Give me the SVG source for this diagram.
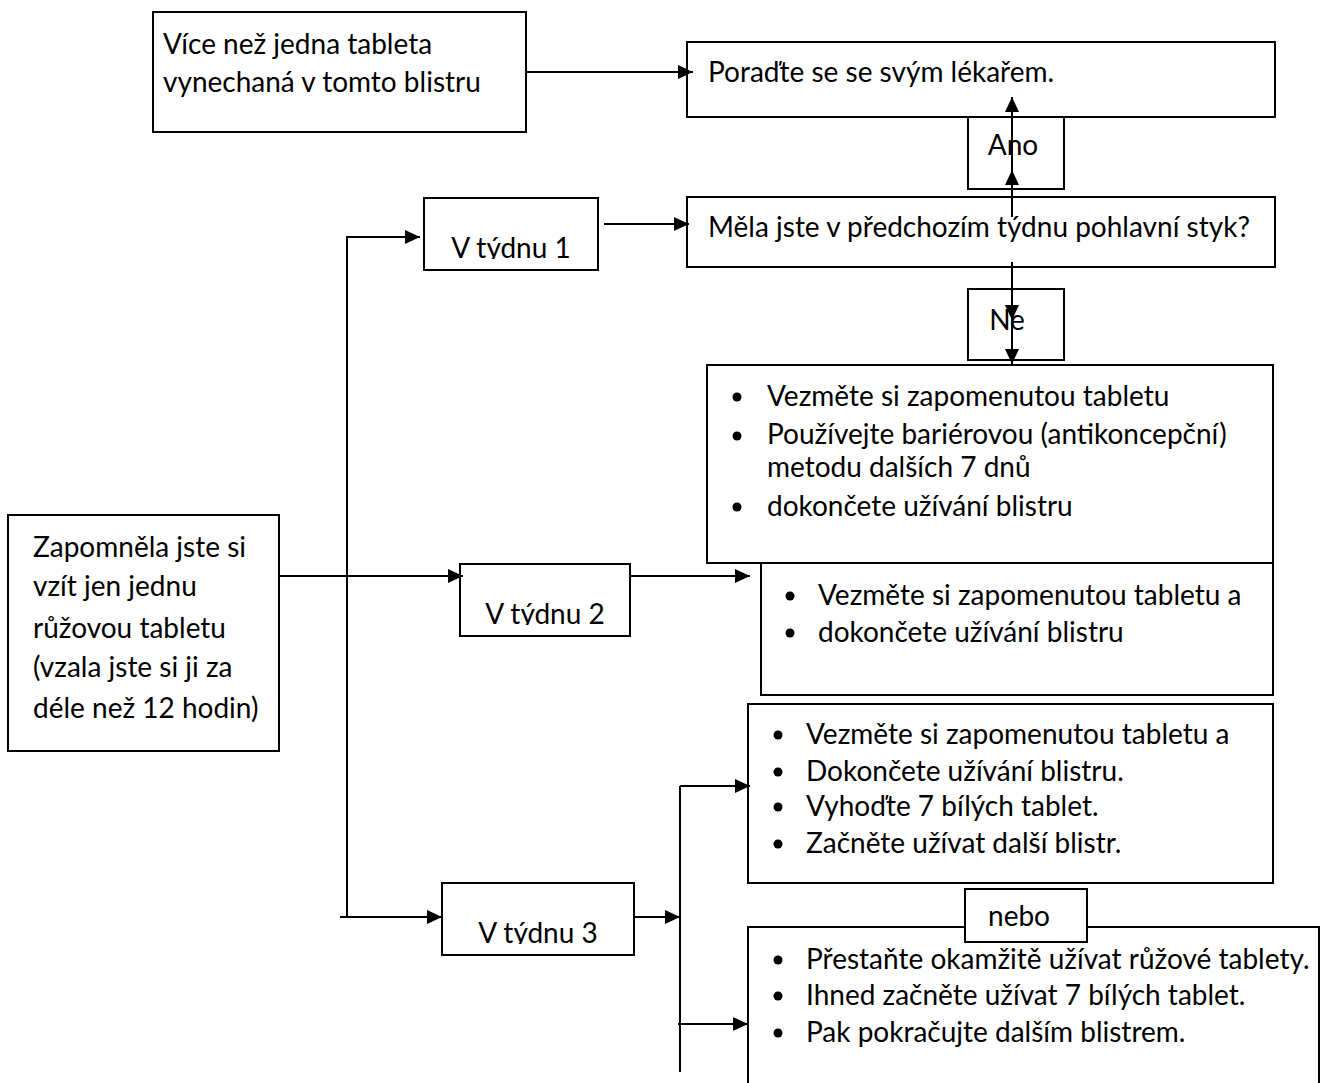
<svg xmlns="http://www.w3.org/2000/svg" width="1326" height="1083" viewBox="0 0 1326 1083">
<style>
.box{fill:#fff;stroke:#000;stroke-width:2}
.t{font-family:Lato,"Liberation Sans",sans-serif;font-size:28px;fill:#000}
.c{text-anchor:middle}
.ln{fill:none;stroke:#000;stroke-width:2}
.ar{fill:none;stroke:#000;stroke-width:2;marker-end:url(#ah)}
</style>
<defs>
<marker id="ah" markerUnits="userSpaceOnUse" markerWidth="15" markerHeight="14" refX="15" refY="7" orient="auto">
<path d="M0,0 L15,7 L0,14 z" fill="#000"/>
</marker>
<clipPath id="cv1"><rect x="424" y="199" width="174" height="60"/></clipPath>
<clipPath id="cv2"><rect x="460" y="565" width="170" height="60"/></clipPath>
<clipPath id="cv3"><rect x="443" y="884" width="190" height="60"/></clipPath>
</defs>
<rect width="1326" height="1083" fill="#fff"/>

<g id="n-vice">
<rect class="box" x="153" y="12" width="373" height="120"/>
<text class="t" x="163" y="54">Více než jedna tableta</text>
<text class="t" x="163" y="92">vynechaná v tomto blistru</text>
</g>

<g id="n-lekar">
<rect class="box" x="687" y="42" width="588" height="75"/>
<text class="t" x="708" y="82">Poraďte se se svým lékařem.</text>
</g>

<g id="n-ano">
<rect class="box" x="968" y="117" width="96" height="72"/>
<text class="t c" x="1013" y="155">Ano</text>
</g>

<g id="n-otazka">
<rect class="box" x="687" y="197" width="588" height="70"/>
<text class="t" x="708" y="237">Měla jste v předchozím týdnu pohlavní styk?</text>
</g>

<g id="n-ne">
<rect class="box" x="968" y="289" width="96" height="71"/>
<text class="t c" x="1007" y="330">Ne</text>
</g>

<g id="n-tyden1-akce">
<rect class="box" x="707" y="365" width="566" height="198"/>
<circle cx="737" cy="397" r="4.5"/>
<text class="t" x="767" y="406">Vezměte si zapomenutou tabletu</text>
<circle cx="737" cy="436" r="4.5"/>
<text class="t" x="767" y="444">Používejte bariérovou (antikoncepční)</text>
<text class="t" x="767" y="477">metodu dalších 7 dnů</text>
<circle cx="737" cy="507" r="4.5"/>
<text class="t" x="767" y="516">dokončete užívání blistru</text>
</g>

<g id="n-tyden2-akce">
<rect class="box" x="761" y="563" width="512" height="132"/>
<circle cx="790" cy="596" r="4.5"/>
<text class="t" x="818" y="605">Vezměte si zapomenutou tabletu a</text>
<circle cx="790" cy="633" r="4.5"/>
<text class="t" x="818" y="642">dokončete užívání blistru</text>
</g>

<g id="n-zapomnela">
<rect class="box" x="8" y="515" width="271" height="236"/>
<text class="t" x="33" y="557">Zapomněla jste si</text>
<text class="t" x="33" y="596">vzít jen jednu</text>
<text class="t" x="33" y="638">růžovou tabletu</text>
<text class="t" x="33" y="677">(vzala jste si ji za</text>
<text class="t" x="33" y="718">déle než 12 hodin)</text>
</g>

<g id="n-tyden1">
<rect class="box" x="424" y="198" width="174" height="72"/>
<text class="t c" x="511" y="258" clip-path="url(#cv1)">V týdnu 1</text>
</g>

<g id="n-tyden2">
<rect class="box" x="460" y="564" width="170" height="72"/>
<text class="t c" x="545" y="624" clip-path="url(#cv2)">V týdnu 2</text>
</g>

<g id="n-tyden3">
<rect class="box" x="442" y="883" width="192" height="72"/>
<text class="t c" x="538" y="943" clip-path="url(#cv3)">V týdnu 3</text>
</g>

<g id="n-tyden3-a">
<rect class="box" x="748" y="704" width="525" height="179"/>
<circle cx="778" cy="735" r="4.5"/>
<text class="t" x="806" y="744">Vezměte si zapomenutou tabletu a</text>
<circle cx="778" cy="772" r="4.5"/>
<text class="t" x="806" y="781">Dokončete užívání blistru.</text>
<circle cx="778" cy="807" r="4.5"/>
<text class="t" x="806" y="816">Vyhoďte 7 bílých tablet.</text>
<circle cx="778" cy="844" r="4.5"/>
<text class="t" x="806" y="853">Začněte užívat další blistr.</text>
</g>

<g id="n-tyden3-b">
<path class="ln" d="M748,1083 V927 H965 M1087,927 H1319 V1083"/>
<circle cx="778" cy="960" r="4.5"/>
<text class="t" x="806" y="969">Přestaňte okamžitě užívat růžové tablety.</text>
<circle cx="778" cy="996" r="4.5"/>
<text class="t" x="806" y="1005">Ihned začněte užívat 7 bílých tablet.</text>
<circle cx="778" cy="1033" r="4.5"/>
<text class="t" x="806" y="1042">Pak pokračujte dalším blistrem.</text>
</g>

<g id="n-nebo">
<rect class="box" x="965" y="889" width="122" height="53"/>
<text class="t c" x="1019" y="926">nebo</text>
</g>

<g id="connectors">
<path class="ar" d="M526,72 H693"/>
<path class="ar" d="M604,224 H689"/>
<path class="ar" d="M1012,217 V170"/>
<path class="ar" d="M1012,170 V97"/>
<path class="ar" d="M1012,262 V320"/>
<path class="ar" d="M1012,320 V364"/>
<path class="ar" d="M279,576 H463"/>
<path class="ar" d="M347,917 V237 H420"/>
<path class="ar" d="M340,917 H442"/>
<path class="ar" d="M630,576 H750"/>
<path class="ar" d="M634,917 H680"/>
<path class="ln" d="M680,786 V1072"/>
<path class="ar" d="M680,786 H750"/>
<path class="ar" d="M678,1024 H748"/>
</g>
</svg>
